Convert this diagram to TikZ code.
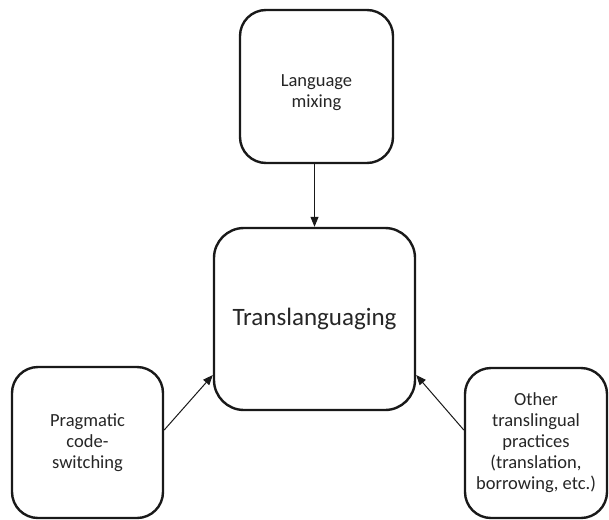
\documentclass[tikz,border=0pt]{standalone}
\usepackage{fontspec}
\setmainfont{Carlito}
\usetikzlibrary{arrows.meta}
\begin{document}
\begin{tikzpicture}[x=1pt,y=-1pt,
  box/.style={draw=black!90, line width=2.4pt, rounded corners=26pt, inner sep=0pt,
    align=center, font=\fontsize{18.5}{21}\selectfont, text=black!85},
  conn/.style={draw=black!90, line width=1pt, -{Triangle[length=10pt,width=8pt]}}]
\useasboundingbox (0,0) rectangle (609,519);
\fill[white] (0,0) rectangle (609,519);
\node[box, minimum width=153pt, minimum height=153pt] (top) at (316.5,86.5)
  {\raisebox{-3pt}[\dimexpr\height+3pt][\dimexpr\depth-3pt]{\begin{tabular}{@{}c@{}}Language\\mixing\end{tabular}}};
\node[box, minimum width=201pt, minimum height=182pt, rounded corners=30pt,
  font=\fontsize{25}{28}\selectfont] (center) at (314.5,319) {Translanguaging};
\node[box, minimum width=151pt, minimum height=151pt] (left) at (87.5,442.5) {Pragmatic\\code-\\switching};
\node[box, minimum width=142pt, minimum height=150pt] (right) at (536,443) {Other\\translingual\\practices\\(translation,\\borrowing, etc.)};
\draw[conn] (center.north |- top.south) -- (center.north);
\draw[conn] ([yshift=12.5pt]left.east) -- ([yshift=-56pt]center.west);
\draw[conn] ([yshift=13pt]right.west) -- ([yshift=-56pt]center.east);
\end{tikzpicture}
\end{document}
